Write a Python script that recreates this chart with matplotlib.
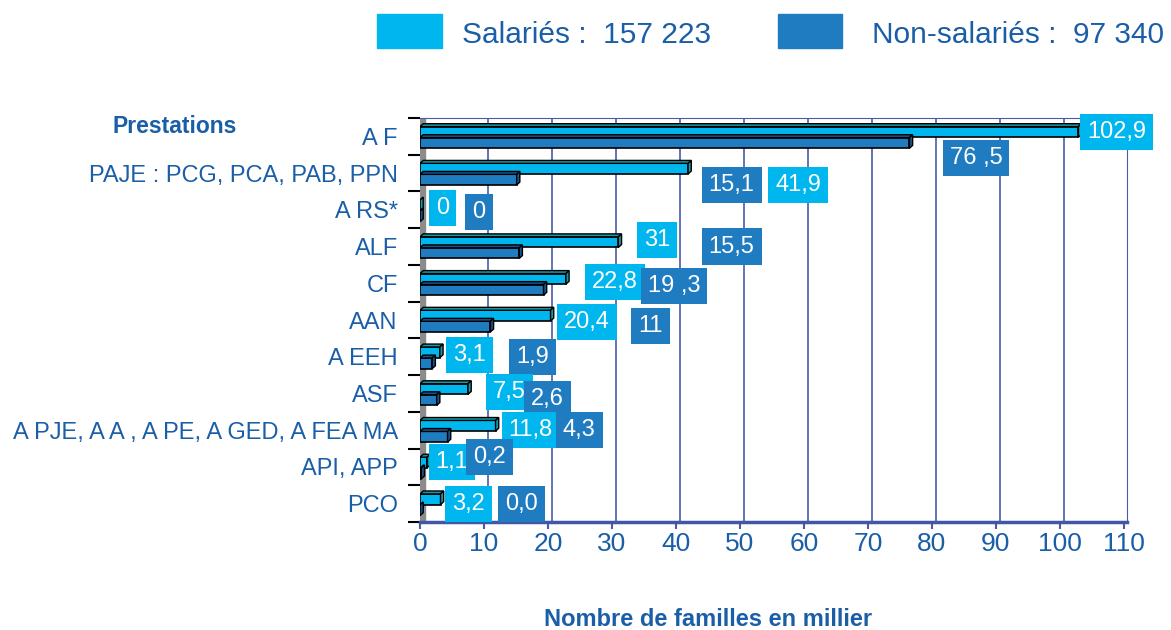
import matplotlib.pyplot as plt
from matplotlib.patches import Polygon

plt.rcParams['font.family'] = ['Liberation Sans', 'DejaVu Sans']

# categories (top to bottom) and values in thousands of families
prestations = ["A F", "PAJE : PCG, PCA, PAB, PPN", "A RS*", "ALF", "CF", "AAN",
               "A EEH", "ASF", "A PJE, A A , A PE, A GED, A FEA MA", "API, APP", "PCO"]
salaries = [102.9, 41.9, 0, 31, 22.8, 20.4, 3.1, 7.5, 11.8, 1.1, 3.2]
non_salaries = [76.5, 15.1, 0, 15.5, 19.3, 11, 1.9, 2.6, 4.3, 0.2, 0.0]
lab_sal = ["102,9", "41,9", "0", "31", "22,8", "20,4", "3,1", "7,5", "11,8", "1,1", "3,2"]
lab_non = ["76 ,5", "15,1", "0", "15,5", "19 ,3", "11", "1,9", "2,6", "4,3", "0,2", "0,0"]
x_ticks = list(range(0, 111, 10))

# where the value boxes sit (x in data units, y offset from category centre)
pos_sal = [(108.9, -0.12), (59.1, 0.33), (3.5, -0.05), (37, -0.18), (30.5, -0.03),
           (26.1, 0.06), (7.8, -0.04), (14, -0.05), (17.3, 0), (5, -0.13), (7.6, 0)]
pos_non = [(86.9, 0.59), (48.7, 0.33), (9.2, 0.06), (48.7, 0), (39.7, 0.08),
           (36, 0.17), (17.6, 0), (19.9, 0.14), (24.9, 0), (10.9, -0.26), (15.9, 0)]

cyan = "#00B6EE"
blue = "#1F7CC1"
txt = "#1A5EA8"
grid_c = "#4A5CA8"

fig = plt.figure(figsize=(11.71, 6.3), dpi=100)
ax = fig.add_axes([0.3587, 0.1714, 0.6037, 0.6413])

n = len(prestations)
h = 0.29
dx, dy = 0.5, 0.08


def bar3d(y, v, col, side):
    ax.barh(y, v, height=h, color=col, edgecolor="black", linewidth=1.2, zorder=3)
    top = y - h / 2
    bot = y + h / 2
    ax.add_patch(Polygon([(0, top), (dx, top - dy), (v + dx, top - dy), (v, top)],
                         closed=True, facecolor=side, edgecolor="black", lw=1, zorder=3))
    ax.add_patch(Polygon([(v, top), (v + dx, top - dy), (v + dx, bot - dy), (v, bot)],
                         closed=True, facecolor=side, edgecolor="black", lw=1, zorder=3))


for i in range(n):
    bar3d(i - 0.12, salaries[i], cyan, "#139AA6")
    bar3d(i + 0.18, non_salaries[i], blue, "#17538A")
    ax.text(pos_sal[i][0], i + pos_sal[i][1], lab_sal[i], color="white", fontsize=17,
            ha="center", va="center", zorder=5,
            bbox=dict(boxstyle="square,pad=0.3", facecolor=cyan, edgecolor="none"))
    ax.text(pos_non[i][0], i + pos_non[i][1], lab_non[i], color="white", fontsize=17,
            ha="center", va="center", zorder=5,
            bbox=dict(boxstyle="square,pad=0.3", facecolor=blue, edgecolor="none"))

# grid lines drawn with a small depth shift
for v in x_ticks[1:]:
    ax.axvline(v + 0.7, color=grid_c, lw=1.2, zorder=1)
ax.axvspan(0, 0.8, color="#8C8C8C", zorder=2)

ax.set_xlim(0, 110.5)
ax.set_ylim(n - 0.5, -0.5)

ax.set_xticks(x_ticks)
ax.set_xticklabels([str(v) for v in x_ticks], fontsize=19, color=txt)
ax.tick_params(axis="x", colors=grid_c, length=5, width=1.5, labelcolor=txt, pad=2)

ax.set_yticks([i - 0.5 for i in range(n + 1)])
ax.set_yticklabels([])
ax.tick_params(axis="y", which="major", length=9, width=1.5, color="black")
ax.set_yticks(range(n), minor=True)
ax.set_yticklabels(prestations, minor=True, fontsize=17, color=txt)
ax.tick_params(axis="y", which="minor", length=0, pad=16)

ax.spines["left"].set_visible(False)
ax.spines["right"].set_color(grid_c)
ax.spines["top"].set_color(grid_c)
ax.spines["bottom"].set_color("#3F57A5")
ax.spines["bottom"].set_linewidth(2.5)

fig.text(175 / 1171, 1 - 127 / 630, "Prestations", fontsize=16.5, fontweight="bold",
         color=txt, ha="center", va="center")
fig.text(708 / 1171, 1 - 620 / 630, "Nombre de familles en millier", fontsize=17,
         fontweight="bold", color=txt, ha="center", va="center")

# legend
fig.patches.append(plt.Rectangle((377 / 1171, 1 - 48 / 630), 65 / 1171, 34 / 630,
                                 transform=fig.transFigure, color=cyan))
fig.patches.append(plt.Rectangle((778 / 1171, 1 - 48 / 630), 64 / 1171, 34 / 630,
                                 transform=fig.transFigure, color=blue))
fig.text(462 / 1171, 1 - 35 / 630, "Salariés :  157 223", fontsize=21.5, color=txt,
         ha="left", va="center")
fig.text(872 / 1171, 1 - 35 / 630, "Non-salariés :  97 340", fontsize=21.5, color=txt,
         ha="left", va="center")

fig.savefig("out.png", dpi=100)
